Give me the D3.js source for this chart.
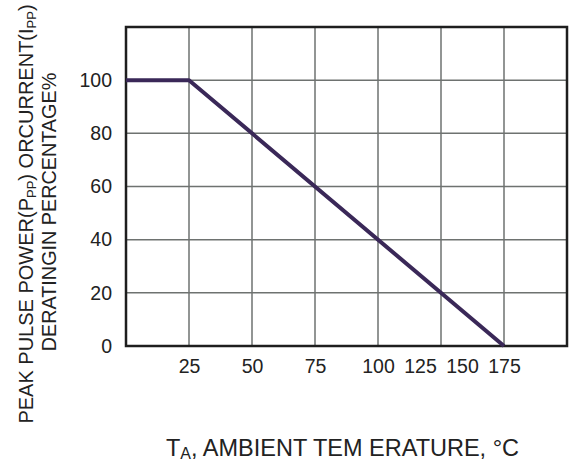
<!DOCTYPE html>
<html lang="en">
<head>
<meta charset="utf-8">
<title>Derating curve</title>
<script src="https://d3js.org/d3.v7.min.js"></script>
<style>
body { margin: 0; background: #fff; }
text { font-family: "Liberation Sans", Arial, sans-serif; fill: #222; }
.grid line { stroke: #6e7270; stroke-width: 1.5px; }
</style>
</head>
<body>
<div id="chart"></div>
<script>
// curve: temperature (°C) vs derating (%)
var temps = [0, 25, 175];
var percent = [100, 100, 0];
var xTicks = [25, 50, 75, 100, 125, 150, 175];
var yTicks = [0, 20, 40, 60, 80, 100];

var width = 572, height = 468;
var margin = {top: 27, right: 5, bottom: 122, left: 126};
var w = width - margin.left - margin.right,
    h = height - margin.top - margin.bottom;

var svg = d3.select("#chart").append("svg")
    .attr("width", width)
    .attr("height", height);
var g = svg.append("g").attr("transform", "translate(" + margin.left + "," + margin.top + ")");

// the printed axis is not uniform: 7 grid columns, labels squeezed at the right
var gx = d3.scaleLinear().domain([0, 7]).range([0, w]);
var x = d3.scaleLinear().domain([0, 100, 175, 210]).range([gx(0), gx(4), gx(6), gx(7)]);
var y = d3.scaleLinear().domain([0, 120]).range([h, 0]);

// grid
var grid = g.append("g").attr("class", "grid");
grid.selectAll(".v").data(d3.range(1, 7)).enter().append("line")
    .attr("x1", function(d) { return gx(d); })
    .attr("x2", function(d) { return gx(d); })
    .attr("y1", 0).attr("y2", h);
grid.selectAll(".h").data(yTicks.slice(1)).enter().append("line")
    .attr("x1", 0).attr("x2", w)
    .attr("y1", function(d) { return y(d); })
    .attr("y2", function(d) { return y(d); });

// frame
g.append("rect")
    .attr("width", w).attr("height", h)
    .attr("fill", "none")
    .attr("stroke", "#1e1e1e")
    .attr("stroke-width", 2.5);

// axes (labels only)
var xAxis = g.append("g")
    .attr("transform", "translate(0," + h + ")")
    .call(d3.axisBottom(x).tickValues(xTicks).tickSize(0).tickPadding(13));
var yAxis = g.append("g")
    .call(d3.axisLeft(y).tickValues(yTicks).tickSize(0).tickPadding(14));
[xAxis, yAxis].forEach(function(a) {
  a.select(".domain").remove();
  a.selectAll("text").attr("font-size", 19.5).attr("fill", "#222");
  a.attr("font-family", null);
});

// curve
var line = d3.line()
    .x(function(d) { return x(d[0]); })
    .y(function(d) { return y(d[1]); });
g.append("path")
    .datum(d3.zip(temps, percent))
    .attr("d", line)
    .attr("fill", "none")
    .attr("stroke", "#3a2858")
    .attr("stroke-width", 4)
    .attr("stroke-linejoin", "round");

// x title
var xt = svg.append("text")
    .attr("x", 166).attr("y", 456)
    .attr("font-size", 23.5);
xt.append("tspan").text("T");
xt.append("tspan").attr("font-size", 16).attr("dy", 3).text("A");
xt.append("tspan").attr("dy", -3).text(", AMBIENT TEM ERATURE, °C");

// y title, two lines
var y1 = svg.append("text")
    .attr("transform", "translate(33,214) rotate(-90)")
    .attr("text-anchor", "middle")
    .attr("font-size", 20);
y1.append("tspan").text("PEAK PULSE POWER(P");
y1.append("tspan").attr("font-size", 13).attr("dy", 3).text("PP");
y1.append("tspan").attr("dy", -3).text(") ORCURRENT(I");
y1.append("tspan").attr("font-size", 13).attr("dy", 3).text("PP");
y1.append("tspan").attr("dy", -3).text(")");

svg.append("text")
    .attr("transform", "translate(56,212) rotate(-90)")
    .attr("text-anchor", "middle")
    .attr("font-size", 19.8)
    .text("DERATINGIN PERCENTAGE%");
</script>
</body>
</html>
